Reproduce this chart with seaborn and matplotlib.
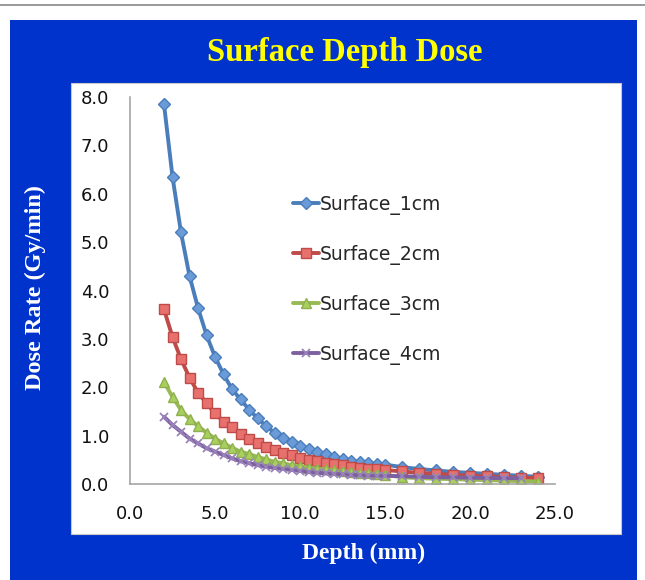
import seaborn as sns
import matplotlib.pyplot as plt
import pandas as pd
from matplotlib.patches import Rectangle
from matplotlib.lines import Line2D

# depth values (mm): 0.5 mm step up to 15, then 1 mm step
depth = [2.0, 2.5, 3.0, 3.5, 4.0, 4.5, 5.0, 5.5, 6.0, 6.5, 7.0, 7.5, 8.0, 8.5,
         9.0, 9.5, 10.0, 10.5, 11.0, 11.5, 12.0, 12.5, 13.0, 13.5, 14.0, 14.5,
         15.0, 16.0, 17.0, 18.0, 19.0, 20.0, 21.0, 22.0, 23.0, 24.0]

surface_1cm = [7.85, 6.35, 5.20, 4.30, 3.64, 3.08, 2.63, 2.27, 1.96, 1.75, 1.54, 1.36,
               1.20, 1.06, 0.96, 0.86, 0.79, 0.72, 0.66, 0.61, 0.56, 0.52, 0.48, 0.45,
               0.43, 0.41, 0.40, 0.35, 0.31, 0.28, 0.25, 0.23, 0.21, 0.19, 0.17, 0.15]
surface_2cm = [3.61, 3.04, 2.58, 2.20, 1.89, 1.67, 1.46, 1.29, 1.17, 1.03, 0.92, 0.84,
               0.77, 0.70, 0.65, 0.59, 0.53, 0.50, 0.47, 0.44, 0.41, 0.39, 0.36, 0.34,
               0.32, 0.30, 0.29, 0.26, 0.23, 0.21, 0.19, 0.17, 0.16, 0.14, 0.13, 0.12]
surface_3cm = [2.11, 1.80, 1.53, 1.34, 1.20, 1.06, 0.94, 0.84, 0.75, 0.67, 0.62, 0.56,
               0.51, 0.46, 0.43, 0.39, 0.37, 0.34, 0.32, 0.30, 0.28, 0.26, 0.25, 0.23,
               0.22, 0.21, 0.19, 0.14, 0.12, 0.11, 0.10, 0.09, 0.08, 0.07, 0.06, 0.05]
surface_4cm = [1.39, 1.22, 1.08, 0.94, 0.84, 0.74, 0.67, 0.60, 0.53, 0.47, 0.43, 0.39,
               0.36, 0.33, 0.31, 0.29, 0.27, 0.25, 0.235, 0.22, 0.21, 0.20, 0.19, 0.18,
               0.175, 0.17, 0.17, 0.16, 0.15, 0.14, 0.135, 0.13, 0.125, 0.12, 0.12]

series = {
    'Surface_1cm': surface_1cm,
    'Surface_2cm': surface_2cm,
    'Surface_3cm': surface_3cm,
    'Surface_4cm': surface_4cm,
}

rows = []
for name, vals in series.items():
    for d, v in zip(depth, vals):
        rows.append([name, d, v])
df = pd.DataFrame(rows, columns=['Series', 'Depth', 'Dose'])

styles = {
    'Surface_1cm': dict(color='#4A7EBB', marker='D', mfc='#6A9BD8', mec='#4A7EBB', ms=6),
    'Surface_2cm': dict(color='#BE4B48', marker='s', mfc='#E8716E', mec='#BE4B48', ms=7),
    'Surface_3cm': dict(color='#98B954', marker='^', mfc='#A9CF5E', mec='#8FB04E', ms=7),
    'Surface_4cm': dict(color='#7D60A0', marker='x', mfc='#7D60A0', mec='#9A82BA', ms=6),
}

sns.set_style('white')
plt.rcParams['font.family'] = ['DejaVu Sans']

fig = plt.figure(figsize=(6.45, 5.8), dpi=100)
fig.patch.set_facecolor('white')

W, H = 645.0, 580.0
# top gray rule, blue panel, white chart area (behind the axes)
fig.add_artist(Line2D([0, 1], [1 - 5 / H, 1 - 5 / H], color='#888888', lw=1.2))
fig.add_artist(Rectangle((10 / W, 0), 627 / W, 1 - 20 / H, facecolor='#0033CC',
                         edgecolor='none', zorder=-2))
fig.add_artist(Rectangle((71 / W, 1 - 534 / H), 550 / W, 451 / H, facecolor='white',
                         edgecolor='#C8C8C8', lw=0.8, zorder=-1))

ax = fig.add_axes([130 / W, 1 - 484 / H, 425 / W, 387 / H])
ax.set_facecolor('none')

for name in series:
    st = styles[name]
    sns.lineplot(data=df[df['Series'] == name], x='Depth', y='Dose', ax=ax,
                 label=name, color=st['color'], linewidth=2.8,
                 marker=st['marker'], markersize=st['ms'],
                 markerfacecolor=st['mfc'], markeredgecolor=st['mec'],
                 markeredgewidth=1.0 if st['marker'] != 'x' else 1.3)

ax.set_xlim(0, 25)
ax.set_ylim(0, 8)
ax.set_xticks([0, 5, 10, 15, 20, 25])
ax.set_yticks(range(0, 9))
ax.set_xticklabels([f'{v:.1f}' for v in [0, 5, 10, 15, 20, 25]])
ax.set_yticklabels([f'{v:.1f}' for v in range(0, 9)])
ax.tick_params(axis='both', direction='out', length=4, width=1, color='#A6A6A6',
               labelsize=13, labelcolor='#111111')
ax.tick_params(axis='y', pad=11)
ax.tick_params(axis='x', pad=11)
for s in ['top', 'right']:
    ax.spines[s].set_visible(False)
for s in ['left', 'bottom']:
    ax.spines[s].set_color('#A6A6A6')
    ax.spines[s].set_linewidth(1.2)
ax.set_xlabel('')
ax.set_ylabel('')
ax.grid(False)

ax.legend(frameon=False, loc='upper left', bbox_to_anchor=(0.366, 0.767),
          handlelength=1.4, handletextpad=0.0, labelspacing=1.6, fontsize=13.5,
          borderaxespad=0)

fig.text(345 / W, 1 - 52 / H, 'Surface Depth Dose', color='#FFFF00', ha='center',
         va='center', fontsize=23.5, fontweight='bold', family='Liberation Serif')
fig.text(364 / W, 1 - 553 / H, 'Depth (mm)', color='white', ha='center',
         va='center', fontsize=17, fontweight='bold', family='Liberation Serif')
fig.text(35 / W, 1 - 288 / H, 'Dose Rate (Gy/min)', color='white', ha='center',
         va='center', rotation=90, fontsize=17.5, fontweight='bold',
         family='Liberation Serif')

fig.savefig('out.png', dpi=100, facecolor='white')
